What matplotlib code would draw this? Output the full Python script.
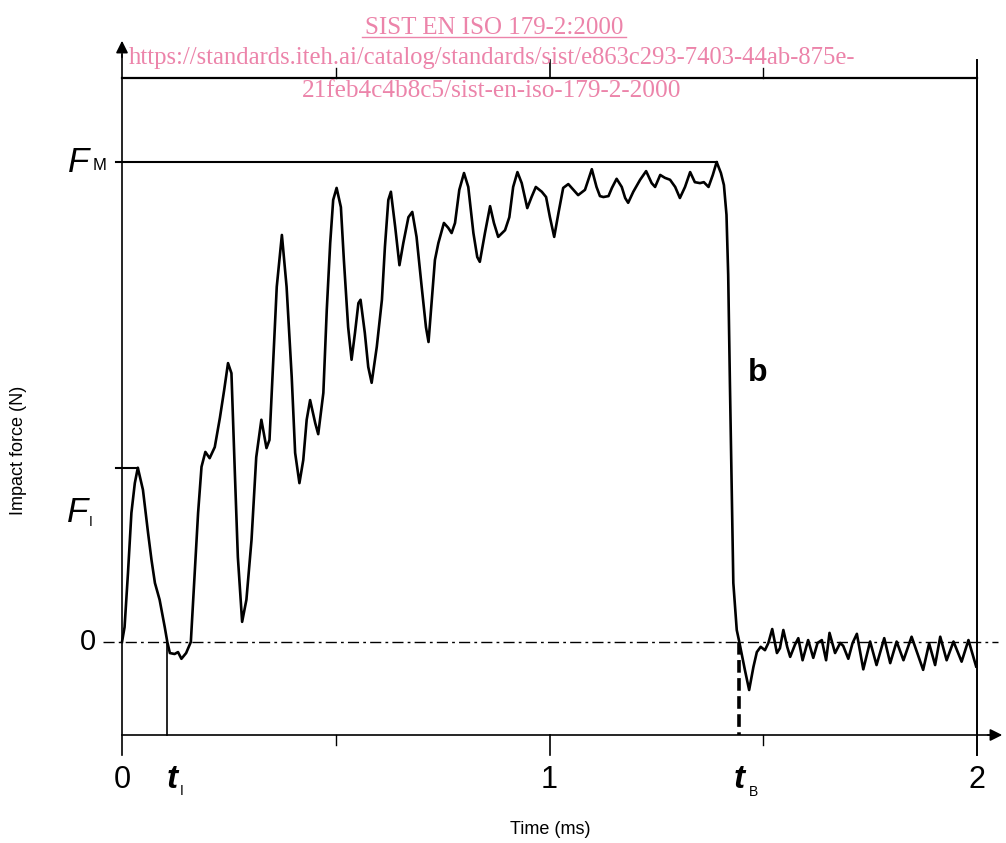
import matplotlib.pyplot as plt
import numpy as np

# impact force signal
time_ms = [0.000, 0.006, 0.014, 0.022, 0.030, 0.037, 0.049, 0.061, 0.069, 0.077,
           0.088, 0.100, 0.106, 0.112, 0.123, 0.131, 0.139, 0.150, 0.161, 0.170,
           0.178, 0.186, 0.195, 0.205, 0.217, 0.229, 0.239, 0.248, 0.256, 0.264,
           0.271, 0.281, 0.291, 0.303, 0.314, 0.326, 0.338, 0.345, 0.354, 0.362,
           0.374, 0.385, 0.397, 0.405, 0.415, 0.424, 0.432, 0.440, 0.452, 0.459,
           0.471, 0.479, 0.487, 0.494, 0.502, 0.512, 0.519, 0.529, 0.537, 0.545,
           0.553, 0.558, 0.568, 0.576, 0.584, 0.596, 0.608, 0.615, 0.623, 0.629,
           0.639, 0.649, 0.658, 0.670, 0.679, 0.689, 0.701, 0.711, 0.717, 0.732,
           0.740, 0.753, 0.763, 0.771, 0.779, 0.789, 0.800, 0.810, 0.822, 0.831,
           0.837, 0.849, 0.861, 0.870, 0.880, 0.896, 0.906, 0.915, 0.925, 0.935,
           0.948, 0.958, 0.968, 0.982, 0.992, 1.001, 1.011, 1.021, 1.032, 1.044,
           1.056, 1.067, 1.083, 1.099, 1.110, 1.118, 1.126, 1.138, 1.146, 1.157,
           1.169, 1.177, 1.184, 1.196, 1.212, 1.226, 1.239, 1.247, 1.259, 1.270,
           1.282, 1.294, 1.305, 1.317, 1.329, 1.340, 1.352, 1.361, 1.372, 1.382,
           1.391, 1.401, 1.408, 1.414, 1.418, 1.422, 1.426, 1.430, 1.438, 1.444,
           1.457, 1.467, 1.477, 1.485, 1.494, 1.504, 1.512, 1.521, 1.532, 1.539,
           1.547, 1.556, 1.563, 1.574, 1.582, 1.592, 1.605, 1.617, 1.627, 1.637,
           1.647, 1.655, 1.668, 1.680, 1.687, 1.699, 1.709, 1.719, 1.734, 1.750,
           1.765, 1.783, 1.797, 1.812, 1.828, 1.847, 1.874, 1.888, 1.902, 1.914,
           1.929, 1.945, 1.964, 1.980, 1.998]
force = [0.0, 3.1, 14.4, 26.9, 33.1, 36.3, 31.7, 22.7, 17.1, 12.3,
         8.8, 3.1, 0.0, -2.3, -2.5, -2.1, -3.5, -2.3, 0.0, 14.4,
         26.9, 36.5, 39.6, 38.3, 40.6, 46.7, 52.5, 58.1, 56.0, 35.2,
         17.7, 4.2, 8.8, 21.3, 38.5, 46.3, 40.4, 42.1, 58.8, 74.0,
         84.8, 74.0, 55.2, 39.4, 33.1, 37.9, 46.3, 50.4, 45.6, 43.3,
         51.9, 69.2, 83.1, 92.1, 94.6, 90.6, 79.6, 65.6, 58.8, 64.4,
         70.6, 71.3, 64.4, 57.3, 54.0, 61.5, 71.3, 82.3, 92.1, 93.8,
         86.5, 78.5, 83.1, 88.5, 89.6, 84.4, 74.0, 65.6, 62.5, 79.6,
         83.1, 87.3, 86.3, 85.2, 87.3, 94.2, 97.7, 94.8, 85.2, 80.2,
         79.2, 85.2, 90.8, 87.3, 84.4, 85.8, 88.5, 94.8, 97.9, 95.6,
         90.4, 92.7, 94.8, 93.8, 92.7, 88.5, 84.4, 89.4, 94.6, 95.4,
         94.2, 93.1, 94.2, 98.5, 94.8, 92.9, 92.7, 92.9, 94.6, 96.5,
         94.8, 92.5, 91.5, 93.8, 96.3, 98.1, 95.6, 94.8, 97.3, 96.7,
         96.3, 94.8, 92.5, 94.8, 97.9, 95.8, 95.6, 95.8, 94.8, 97.3,
         100.0, 97.7, 95.2, 89.0, 76.5, 54.0, 33.1, 12.3, 2.5, 0.0,
         -5.8, -10.0, -5.2, -2.1, -1.0, -1.7, -0.2, 2.7, -2.3, -1.3,
         2.5, -1.0, -3.1, -0.6, 0.8, -3.8, 0.4, -3.3, -0.2, 0.4,
         -3.8, 1.9, -2.3, -0.2, -0.8, -3.5, -0.2, 1.7, -5.7, 0.1,
         -4.8, 0.8, -4.4, 0.1, -3.8, 1.1, -5.8, -0.3, -4.8, 1.1,
         -3.8, 0.1, -4.1, 0.4, -5.1]

major_ticks = [0, 1, 2]
major_labels = ['0', '1', '2']
minor_ticks = [0.5, 1.5]
t_I = 0.106
t_B = 1.444

watermark = ['SIST EN ISO 179-2:2000',
             'https://standards.iteh.ai/catalog/standards/sist/e863c293-7403-44ab-875e-',
             '21feb4c4b8c5/sist-en-iso-179-2-2000']

time_ms = np.array(time_ms)
force = np.array(force)
F_M = force.max()
t_M = time_ms[force.argmax()]
F_I = force[time_ms < t_I].max()
t_FI = time_ms[time_ms < t_I][force[time_ms < t_I].argmax()]


# helpers to place layout elements at pixel positions of the 1006x843 image
def px(x):
    return (x - 122) / 427.5


def py(y):
    return (642 - y) / 4.8


plt.rcParams['font.family'] = ['Liberation Sans', 'DejaVu Sans']

fig = plt.figure(figsize=(10.06, 8.43), dpi=100)
ax = fig.add_axes([0, 0, 1, 1])
ax.set_xlim(px(0), px(1006))
ax.set_ylim(py(843), py(0))
ax.axis('off')

k = 'black'
# frame: axes with arrows, top line, right line
ax.plot([0, 0], [py(755), py(55)], color=k, lw=1.2)
ax.annotate('', xy=(0, py(38)), xytext=(0, py(60)),
            arrowprops=dict(arrowstyle='-|>', color=k, lw=1.2, mutation_scale=18))
ax.plot([0, px(990)], [py(735), py(735)], color=k, lw=1.2)
ax.annotate('', xy=(px(1005), py(735)), xytext=(px(985), py(735)),
            arrowprops=dict(arrowstyle='-|>', color=k, lw=1.2, mutation_scale=18))
ax.plot([0, 2], [py(78), py(78)], color=k, lw=1.6)
ax.plot([2, 2], [py(755), py(60)], color=k, lw=1.4)
for t in minor_ticks:
    ax.plot([t, t], [py(735), py(745)], color=k, lw=1)
    ax.plot([t, t], [py(78), py(68)], color=k, lw=1)
ax.plot([1, 1], [py(735), py(755)], color=k, lw=1.2)
ax.plot([1, 1], [py(78), py(60)], color=k, lw=1.2)

# reference lines
ax.plot([px(103), px(998)], [0, 0], color=k, lw=1, linestyle=(0, (8, 3, 2, 3)))
ax.plot([px(116), t_M], [F_M, F_M], color=k, lw=1.5)
ax.plot([px(116), t_FI], [F_I, F_I], color=k, lw=1.5)
ax.plot([t_I, t_I], [0, py(735)], color=k, lw=1.2)
ax.plot([t_B, t_B], [0, py(735)], color=k, lw=2.6, linestyle=(0, (3.5, 1.5)))

# signal
ax.plot(time_ms, force, color=k, lw=1.9, solid_joinstyle='round')

# labels
for t, lab in zip(major_ticks, major_labels):
    ax.text(t, py(780), lab, fontsize=22, ha='center', va='center')
ax.text(t_I + px(172) - px(167), py(780), 't', fontsize=24, style='italic',
        fontweight='bold', ha='center', va='center')
ax.text(px(180), py(791), 'I', fontsize=10, ha='left', va='center')
ax.text(t_B, py(780), 't', fontsize=24, style='italic', fontweight='bold',
        ha='center', va='center')
ax.text(px(749), py(792), 'B', fontsize=10, ha='left', va='center')

ax.text(px(79), F_M, 'F', fontsize=25, style='italic', ha='center', va='center')
ax.text(px(93), py(166), 'M', fontsize=12, ha='left', va='center')
ax.text(px(78), py(513), 'F', fontsize=25, style='italic', ha='center', va='center')
ax.text(px(89), py(522), 'I', fontsize=10, ha='left', va='center')
ax.text(px(88), 0, '0', fontsize=21, ha='center', va='center')
ax.text(px(758), py(373), 'b', fontsize=23, fontweight='bold', ha='center', va='center')

ax.text(px(550), py(830), 'Time (ms)', fontsize=13, ha='center', va='center')
ax.text(px(18), py(450), 'Impact force (N)', fontsize=13, rotation=90,
        ha='center', va='center')

# watermark
pink = '#ec84aa'
ax.text(px(494), py(34), watermark[0], fontsize=18, color=pink,
        family='Liberation Serif', ha='center', va='baseline')
ax.plot([px(362), px(626)], [py(37), py(37)], color=pink, lw=1)
ax.text(px(492), py(64), watermark[1], fontsize=17.7, color=pink,
        family='Liberation Serif', ha='center', va='baseline')
ax.text(px(492), py(97), watermark[2], fontsize=18.2, color=pink,
        family='Liberation Serif', ha='center', va='baseline')

fig.savefig('out.png', dpi=100)
